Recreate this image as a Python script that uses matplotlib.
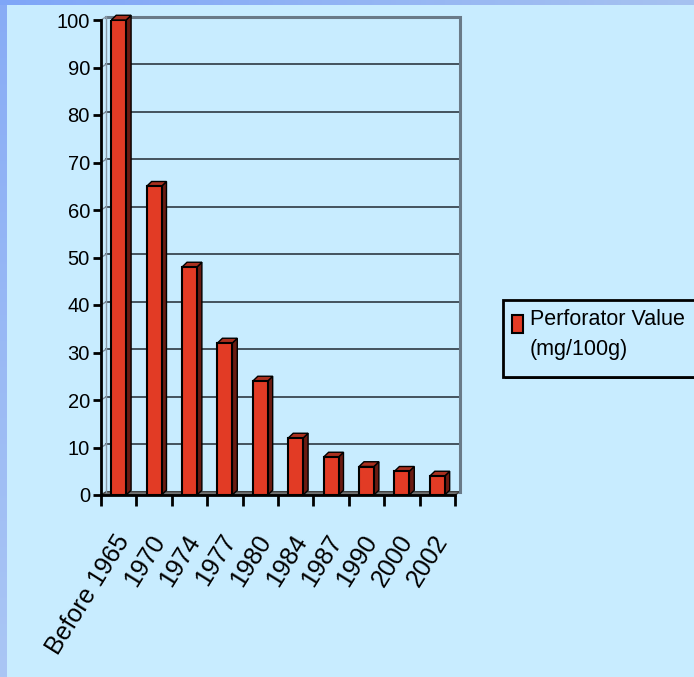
import numpy as np
import matplotlib.pyplot as plt
from matplotlib.patches import Polygon, Rectangle
from matplotlib.colors import LinearSegmentedColormap

years = ['Before 1965', '1970', '1974', '1977', '1980', '1984', '1987', '1990', '2000', '2002']
perforator = [100, 65, 48, 32, 24, 12, 8, 6, 5, 4]
series_name = 'Perforator Value\n(mg/100g)'

plt.rcParams['font.family'] = ['Liberation Sans', 'DejaVu Sans']

bg = '#C8ECFF'
red = '#E23B25'
red_side = '#6A1B12'
red_top = '#A9301F'

W, H = 694, 677
fig = plt.figure(figsize=(W / 100, H / 100), dpi=100, facecolor=bg)


def fx(px):
    return px / W


def fy(py):
    return 1 - py / H


# blue frame strips (top and left)
top = fig.add_axes([0, fy(5), 1, 5 / H])
top.imshow(np.linspace(0, 1, 256)[None, :], aspect='auto',
           cmap=LinearSegmentedColormap.from_list('t', ['#7FA6F8', '#A6C2F0']))
top.axis('off')
left = fig.add_axes([0, 0, fx(6), fy(5)])
left.imshow(np.linspace(0, 1, 256)[:, None], aspect='auto',
            cmap=LinearSegmentedColormap.from_list('l', ['#88ACF6', '#AAC6F4']))
left.axis('off')

ax = fig.add_axes([fx(101), fy(495), fx(354), 475 / H])
ax.set_facecolor('none')
n = len(years)
x = np.arange(n)
ax.set_xlim(-0.5, n - 0.5)
ax.set_ylim(0, 100)

# fake 3D depth
dx, dy = 0.15, 0.7
bdx, bdy = 0.14, 1.0
x0, x1 = -0.5, n - 0.5

# floor
ax.add_patch(Polygon([[x0, 0], [x1, 0], [x1 + dx, dy], [x0 + dx, dy]],
                     closed=True, fc='#737373', ec='#404040', lw=1, clip_on=False, zorder=1))
# back wall + gridlines
for v in range(10, 100, 10):
    ax.plot([x0 + dx, x1 + dx], [v + dy, v + dy], color='#3A4650', lw=1.3, clip_on=False, zorder=1)
    ax.plot([x0, x0 + dx], [v, v + dy], color='#7A8A98', lw=1, clip_on=False, zorder=1)
ax.plot([x0 + dx, x1 + dx, x1 + dx], [100 + dy, 100 + dy, dy], color='#6A7A88', lw=2.2,
        clip_on=False, zorder=1, solid_joinstyle='miter')
ax.plot([x0 + dx, x0 + dx], [dy, 100 + dy], color='#8A9AA8', lw=1, clip_on=False, zorder=1)
ax.plot([x0, x0 + dx], [100, 100 + dy], color='#8A9AA8', lw=1, clip_on=False, zorder=1)

# bars
w = 0.42
ax.bar(x, perforator, width=w, color=red, edgecolor='black', linewidth=1.5, zorder=3)
for xi, v in zip(x, perforator):
    r = xi + w / 2
    l = xi - w / 2
    ax.add_patch(Polygon([[r, 0], [r + bdx, bdy], [r + bdx, v + bdy], [r, v]],
                         closed=True, fc=red_side, ec='black', lw=1, clip_on=False, zorder=2.5))
    ax.add_patch(Polygon([[l, v], [r, v], [r + bdx, v + bdy], [l + bdx, v + bdy]],
                         closed=True, fc=red_top, ec='black', lw=1, clip_on=False, zorder=2.5))

# axes
for s in ['top', 'right']:
    ax.spines[s].set_visible(False)
ax.spines['left'].set_linewidth(2)
ax.spines['bottom'].set_linewidth(2)
ax.spines['left'].set_zorder(4)
ax.spines['bottom'].set_zorder(4)
ax.set_yticks(range(0, 101, 10))
ax.tick_params(axis='y', length=6, width=2, direction='out', pad=2, labelsize=14.5)
ax.set_xticks(np.arange(-0.5, n, 1.0))
ax.set_xticklabels([])
ax.tick_params(axis='x', length=8, width=2, direction='out')

for xi, lab in zip(x, years):
    ax.annotate(lab, xy=(xi, 0), xycoords='data', xytext=(4, -30), textcoords='offset points',
                rotation=58, ha='right', va='center', rotation_mode='anchor',
                fontsize=18, annotation_clip=False)

# legend box (drawn by hand so the swatch sits on the first line)
fig.add_artist(Rectangle((fx(505), fy(379)), fx(200), 77 / H, transform=fig.transFigure,
                         fc='#202020', ec='none', zorder=5))
fig.add_artist(Rectangle((fx(503), fy(377)), fx(200), 77 / H, transform=fig.transFigure,
                         fc=bg, ec='black', lw=2, zorder=6))
fig.add_artist(Rectangle((fx(512), fy(333)), fx(11), 18 / H, transform=fig.transFigure,
                         fc=red, ec='black', lw=1.5, zorder=7))
fig.text(fx(530), fy(309), series_name, ha='left', va='top', fontsize=15.5,
         linespacing=1.55, zorder=7)

fig.savefig('out.png', dpi=100, facecolor=bg)
